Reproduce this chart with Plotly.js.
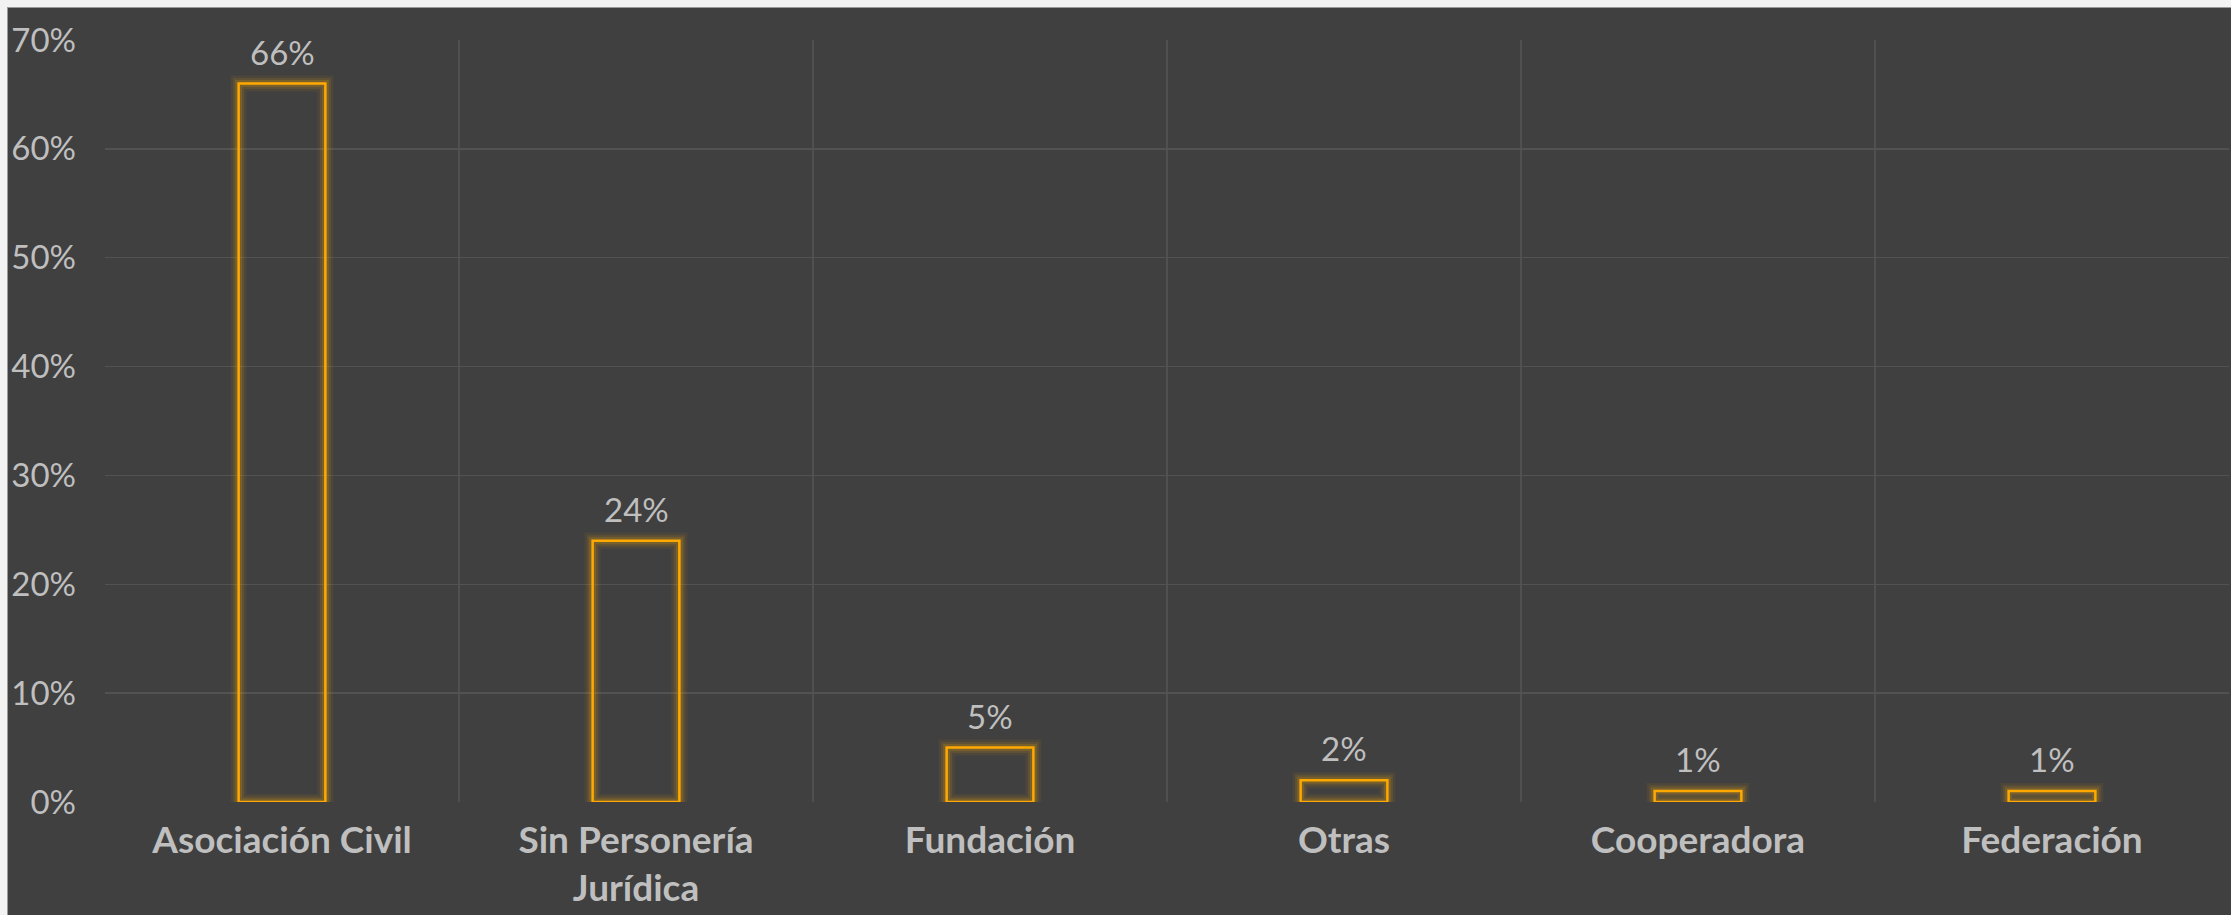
<!DOCTYPE html>
<html>
<head>
<meta charset="utf-8">
<script src="https://cdn.plot.ly/plotly-3.0.1.min.js"></script>
<style>
  html, body { margin:0; padding:0; background:#f2f2f2; width:2231px; height:915px; overflow:hidden; }
  #frame { position:absolute; left:7px; top:7px; width:2224px; height:908px; background:#9a9a9a; }
  #chart { position:absolute; left:8px; top:8px; width:2223px; height:907px; }
</style>
</head>
<body>
<div id="frame"></div>
<div id="chart"></div>
<script>
const categories = ["Asociación Civil", "Sin Personería<br>Jurídica", "Fundación", "Otras", "Cooperadora", "Federación"];
const values = [66, 24, 5, 2, 1, 1];
const valueLabels = ["66%", "24%", "5%", "2%", "1%", "1%"];
const yTickValues = [0, 10, 20, 30, 40, 50, 60, 70];
const yTickLabels = ["0%", "10%", "20%", "30%", "40%", "50%", "60%", "70%"];

const labelColor = "#bfbfbf";
const font = "Lato, 'Open Sans', sans-serif";

function barTrace(color, w) {
  return {
    type: "bar", x: categories, y: values, width: 0.245,
    marker: { color: "rgba(0,0,0,0)", line: { color: color, width: w } },
    hoverinfo: "skip", showlegend: false
  };
}
const traces = [
  barTrace("rgba(255,176,0,0.07)", 16),
  barTrace("rgba(255,176,0,0.10)", 11),
  barTrace("rgba(255,176,0,0.16)", 7),
  barTrace("#FFA800", 2.5)
];

const annotations = categories.map((c, i) => ({
  x: c, y: values[i], xref: "x", yref: "y",
  text: valueLabels[i], showarrow: false,
  yanchor: "bottom", yshift: 10,
  font: { family: font, size: 33, color: labelColor }
}));

const layout = {
  width: 2223, height: 907,
  margin: { l: 97, r: 2, t: 32, b: 113 },
  paper_bgcolor: "#404040", plot_bgcolor: "#404040",
  barmode: "overlay",
  showlegend: false,
  xaxis: {
    type: "category",
    tickson: "boundaries",
    showgrid: true, gridcolor: "#505050", gridwidth: 1.5,
    ticks: "", showline: false, zeroline: false,
    tickfont: { family: font, size: 37, color: labelColor, weight: "bold" },
    ticklabelstandoff: 13,
    fixedrange: true
  },
  yaxis: {
    range: [0, 70],
    tickvals: yTickValues, ticktext: yTickLabels,
    showgrid: true, gridcolor: "#525252", gridwidth: 1.5,
    zeroline: false, showline: false, ticks: "",
    tickfont: { family: font, size: 33, color: labelColor },
    ticklabelstandoff: 28,
    fixedrange: true
  },
  annotations: annotations
};

Plotly.newPlot("chart", traces, layout, { displayModeBar: false, staticPlot: true });
</script>
</body>
</html>
